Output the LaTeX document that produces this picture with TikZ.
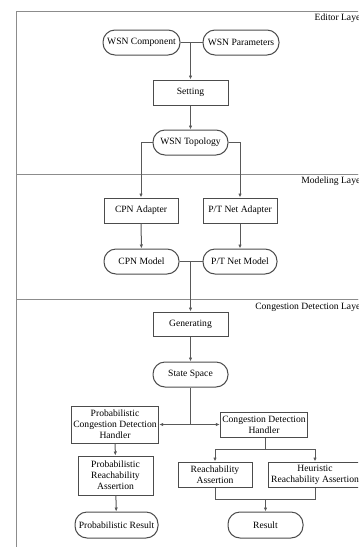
\documentclass[tikz,border=0pt]{standalone}
\usepackage{fontspec}
\setmainfont{Liberation Serif}
\usetikzlibrary{arrows.meta}

\tikzset{every picture/.style={line width=0.75pt}}
\tikzset{
  stadium/.style={draw=black!70, rounded corners=9pt, minimum height=18.75pt, inner sep=1.5pt, align=center},
  procbox/.style={draw=black!70, minimum height=18.75pt, inner sep=1.5pt, align=center},
  layerlabel/.style={anchor=east, inner sep=0pt},
  arr/.style={draw=black!65, -{Latex[length=3pt,width=2.6pt]}},
  link/.style={draw=black!65}
}

\begin{document}
\begin{tikzpicture}[x=0.75pt,y=0.75pt,yscale=-1,xscale=1,font=\fontsize{7.2}{8.4}\selectfont]

\useasboundingbox (0,0) rectangle (358,547);
\clip (0,0) rectangle (358,547);

% layers
\draw [draw=black!45] (16,11) rectangle (372,174.5);
\draw [draw=black!45] (16,174.5) rectangle (372,299);
\draw [draw=black!45] (16,299) rectangle (372,560);
\draw (364,18.5) node [layerlabel] (edlabel) {Editor Layer};
\draw (364,181.5) node [layerlabel] (modlabel) {Modeling Layer};
\draw (364,307.5) node [layerlabel] (cdlabel) {Congestion Detection Layer};

% editor layer
\node [stadium, minimum width=57.75pt] (wsncomp) at (141.5,42.5) {WSN Component};
\node [stadium, minimum width=57pt] (wsnparam) at (241,42.5) {WSN Parameters};
\node [procbox, minimum width=56.25pt] (setting) at (190.5,92.5) {Setting};
\node [stadium, minimum width=56.25pt] (topology) at (190.5,142.5) {WSN Topology};

% modeling layer
\node [procbox, minimum width=55.5pt] (cpnadapter) at (141,210.5) {CPN Adapter};
\node [procbox, minimum width=55.5pt] (ptadapter) at (240,210.5) {P/T Net Adapter};
\node [stadium, minimum width=56.25pt] (cpnmodel) at (141.5,261.5) {CPN Model};
\node [stadium, minimum width=55.5pt] (ptmodel) at (240,261.5) {P/T Net Model};

% congestion detection layer
\node [procbox, minimum width=56.25pt, minimum height=18pt] (generating) at (190.5,324) {Generating};
\node [stadium, minimum width=56.25pt] (statespace) at (190.5,374.5) {State Space};
\node [procbox, minimum width=64.5pt, minimum height=27.75pt] (pcdh) at (115,424.5) {Probabilistic\\Congestion Detection\\Handler};
\node [procbox, minimum width=65.25pt] (cdh) at (264,424.5) {Congestion Detection\\Handler};
\node [procbox, minimum width=56.25pt, minimum height=29.25pt] (pra) at (115.5,475.5) {Probabilistic\\Reachability\\Assertion};
\node [stadium, minimum width=62.25pt, minimum height=19.5pt] (presult) at (116.5,525) {Probabilistic Result};
\node [procbox, minimum width=55.5pt] (ra) at (215,474.5) {Reachability\\Assertion};
\node [procbox, minimum width=70.5pt] (hra) at (315,474.5) {Heuristic\\Reachability Assertion};
\node [stadium, minimum width=56.25pt, minimum height=19.5pt] (result) at (265.5,525) {Result};

\coordinate (fork) at (265.5,449);
\coordinate (merge) at (265.5,499);

% connectors
\draw [link] (wsncomp.east) -- (wsnparam.west);
\draw [arr] (setting.north |- wsncomp.east) -- (setting.north);
\draw [arr] (setting) -- (topology);
\draw [arr] (topology.west) -| (cpnadapter.north);
\draw [arr] (topology.east) -| (ptadapter.north);
\draw [arr] (cpnadapter) -- (cpnmodel);
\draw [arr] (ptadapter) -- (ptmodel);
\draw [link] (cpnmodel.east) -- (ptmodel.west);
\draw [arr] (generating.north |- cpnmodel.east) -- (generating.north);
\draw [arr] (generating) -- (statespace);
\draw [link] (statespace.south) -- (statespace |- cdh);
\draw [arr] (statespace |- cdh) -- (cdh.west);
\draw [arr] (statespace |- pcdh) -- (pcdh.east);
\draw [arr] (pcdh) -- (pra);
\draw [arr] (pra) -- (presult);
\draw [link] (cdh.south -| fork) -- (fork);
\draw [arr] (fork) -| (ra.north);
\draw [arr] (fork) -| (hra.north);
\draw [link] (ra.south) |- (merge);
\draw [link] (hra.south) |- (merge);
\draw [arr] (merge) -- (result);

\end{tikzpicture}
\end{document}
